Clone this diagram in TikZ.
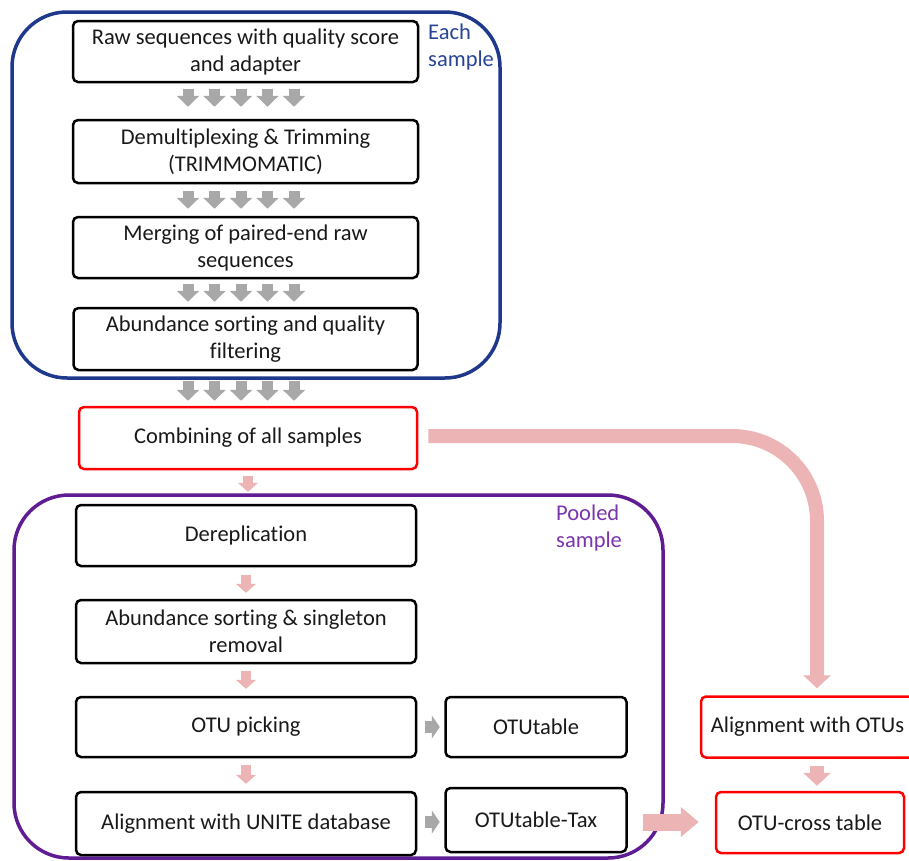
\documentclass[tikz,border=0pt]{standalone}
\usepackage{fontspec}
\setmainfont[Ligatures=NoCommon]{Carlito}
\usetikzlibrary{arrows.meta,calc}
\definecolor{navyframe}{RGB}{30,56,140}
\definecolor{purpframe}{RGB}{96,28,146}
\definecolor{pinkarr}{RGB}{236,180,180}
\definecolor{greyarr}{RGB}{168,168,168}
\definecolor{eachblue}{RGB}{40,68,150}
\definecolor{pooledpurp}{RGB}{122,52,172}
\begin{document}
\begin{tikzpicture}[x=1pt,y=-1pt,
  txt/.style={font=\fontsize{22.5}{27}\selectfont},
  box/.style={txt, draw=black, line width=2.5pt, rounded corners=5pt, align=center, inner sep=0pt, text=black!90},
  redbox/.style={box, draw=red},
  frame/.style={line width=3.5pt, rounded corners=55pt, inner sep=0pt},
  greyarrow/.style={draw=greyarr, line width=11pt, -{Triangle[width=22pt,length=11pt]}},
  greyside/.style={draw=greyarr, line width=12pt, -{Triangle[width=23pt,length=8pt]}},
  pinkdown/.style={draw=pinkarr, line width=10pt, -{Triangle[width=20pt,length=9pt]}},
  pinkbig/.style={draw=pinkarr, line width=14pt, -{Triangle[width=27pt,length=13pt]}},
  pinkside/.style={draw=pinkarr, line width=17pt, -{Triangle[width=29pt,length=18pt]}}
]
\useasboundingbox (0,0) rectangle (909,860);

% frames
\node[frame, draw=navyframe, minimum width=488pt, minimum height=366pt] (eachframe) at (256,195) {};
\node[frame, draw=purpframe, minimum width=649pt, minimum height=363pt] (poolframe) at (338.5,676.5) {};
\node[txt, anchor=north west, align=left, inner sep=0pt, text=eachblue] (eachlbl) at (428,24) {Each\\sample};
\node[txt, anchor=north west, align=left, inner sep=0pt, text=pooledpurp] (poollbl) at (556,505) {Pooled\\sample};

% boxes
\node[box, minimum width=345pt, minimum height=61pt] (b1) at (245.5,51.5) {Raw sequences with quality score\\and adapter};
\node[box, minimum width=345pt, minimum height=63pt] (b2) at (245.5,151.5) {Demultiplexing \& Trimming\\(TRIMMOMATIC)};
\node[box, minimum width=345pt, minimum height=61pt] (b3) at (245.5,247.5) {Merging of paired-end raw\\sequences};
\node[box, minimum width=344pt, minimum height=62pt] (b4) at (245.5,339) {Abundance sorting and quality\\filtering};
\node[redbox, minimum width=338pt, minimum height=62pt] (comb) at (248,438) {Combining of all samples};
\node[box, minimum width=340pt, minimum height=61pt] (derep) at (246,535.5) {Dereplication};
\node[box, minimum width=340pt, minimum height=63pt] (ab2) at (246,631.5) {Abundance sorting \& singleton\\removal};
\node[box, minimum width=340pt, minimum height=60pt] (otu) at (246,727) {OTU picking};
\node[box, minimum width=340pt, minimum height=63pt] (unite) at (246,823.5) {Alignment with UNITE database};
\node[box, minimum width=181pt, minimum height=60pt] (otut) at (536,727) {OTUtable};
\node[box, minimum width=181pt, minimum height=64pt] (tax) at (536,820) {OTUtable-Tax};
\node[redbox, minimum width=213pt, minimum height=61pt] (aotu) at (807.5,727) {Alignment with OTUs};
\node[redbox, minimum width=188pt, minimum height=61pt] (cross) at (810,822.5) {OTU-cross table};

% grey multi-arrows
\foreach \a/\b/\s/\e in {b1/b2/6/12, b2/b3/7/7, b3/b4/5/5, b4/comb/10/5}{
  \foreach \dx in {-57.5,-31,-4.5,22,48.5}{
    \path ($(\a.south)+(\dx,0)$) coordinate (gs);
    \draw[greyarrow, shorten <=\s pt, shorten >=\e pt] (gs) -- (gs |- \b.north);
  }
}

% pink down arrows
\draw[pinkdown, shorten <=6pt, shorten >=12pt] (comb.south) -- (comb.south |- derep.north);
\draw[pinkdown, shorten <=8pt, shorten >=6pt] (derep.south) -- (ab2.north);
\draw[pinkdown, shorten <=7pt, shorten >=7pt] (ab2.south) -- (otu.north);
\draw[pinkdown, shorten <=7pt, shorten >=7pt] (otu.south) -- (unite.north);

% grey side arrows
\draw[greyside, shorten <=8pt, shorten >=4.5pt] (otu.east) -- (otut.west);
\path ($(unite.east)+(0,-1.5)$) coordinate (us);
\draw[greyside, shorten <=8pt, shorten >=4.5pt] (us) -- (us -| tax.west);

% big pink connector
\coordinate (bigstart) at ($(comb.east)+(0,-2)$);
\coordinate (bigend) at ($(aotu.north)+(9.5,0)$);
\draw[pinkbig, rounded corners=85pt, shorten <=10pt, shorten >=7pt] (bigstart) -| (bigend);

% tax -> cross
\path ($(tax.east)+(0,2)$) coordinate (ts);
\draw[pinkside, shorten <=15pt, shorten >=16pt] (ts) -- (ts -| cross.west);

% aotu -> cross
\path ($(aotu.south)+(9.5,0)$) coordinate (qs);
\draw[pinkbig, shorten <=7.5pt, shorten >=5pt] (qs) -- (qs |- cross.north);
\end{tikzpicture}
\end{document}
